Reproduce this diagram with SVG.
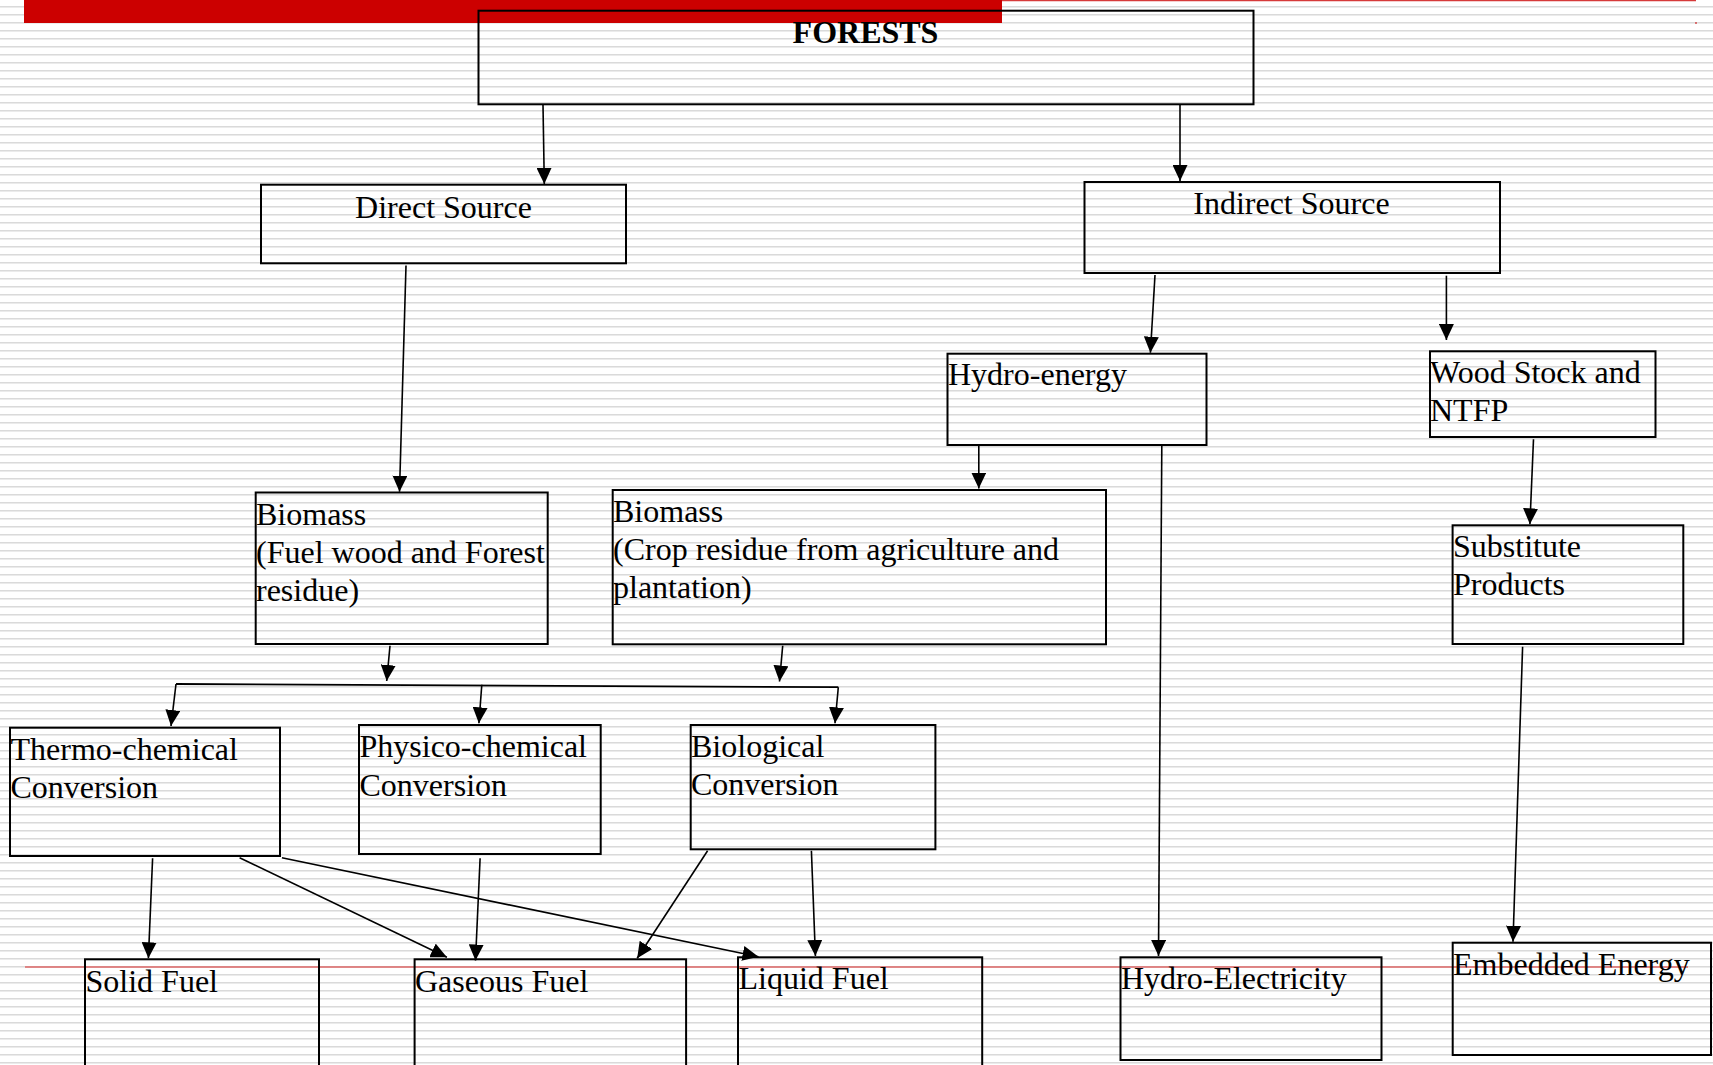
<svg xmlns="http://www.w3.org/2000/svg" width="1713" height="1065" viewBox="0 0 1713 1065">
<defs>
<pattern id="stripes" width="8" height="8" patternUnits="userSpaceOnUse">
<rect x="0" y="0" width="8" height="8" fill="#ffffff"/>
<rect x="0" y="6" width="8" height="1" fill="#dadada"/>
<rect x="0" y="7" width="8" height="1" fill="#ebebeb"/>
</pattern>
<marker id="arr" markerUnits="userSpaceOnUse" markerWidth="17" markerHeight="15" refX="16" refY="7.5" orient="auto">
<path d="M0,0 L16,7.5 L0,15 z" fill="#000"/>
</marker>
<style>
.box{fill:none;stroke:#000;stroke-width:2}
.t{font-family:"Liberation Serif","Times New Roman",serif;font-size:32px;fill:#000}
.c{fill:none;stroke:#000;stroke-width:1.8}
.ca{fill:none;stroke:#000;stroke-width:1.6;marker-end:url(#arr)}
</style>
</defs>
<rect x="0" y="0" width="1713" height="1065" fill="url(#stripes)"/>
<rect x="24" y="0" width="978" height="23" fill="#cc0000"/>
<line x1="1002" y1="0.6" x2="1696" y2="0.6" stroke="#d63a3a" stroke-width="1.2"/>
<rect x="1695.5" y="22" width="1" height="2" fill="#cc0000"/>
<line x1="25" y1="967" x2="1688" y2="967" stroke="#dd6666" stroke-width="1.3"/>

<g id="connectors">
<line class="ca" x1="543" y1="105" x2="544.3" y2="184"/>
<line class="ca" x1="1180" y1="105" x2="1180" y2="181"/>
<line class="ca" x1="406" y1="265.5" x2="399.5" y2="491.7"/>
<line class="ca" x1="1155" y1="275" x2="1150.4" y2="352.7"/>
<line class="ca" x1="1446.4" y1="275.7" x2="1446.4" y2="340"/>
<line class="ca" x1="978.8" y1="446" x2="978.8" y2="488.5"/>
<line class="ca" x1="1161.8" y1="446" x2="1158.5" y2="956"/>
<line class="ca" x1="1533.5" y1="439.3" x2="1529.9" y2="524.3"/>
<line class="ca" x1="1522.6" y1="646.7" x2="1513" y2="941.7"/>
<line class="ca" x1="390" y1="645.7" x2="386.7" y2="681"/>
<line class="ca" x1="782.7" y1="645.7" x2="779.5" y2="681.5"/>
<line class="c" x1="176" y1="684" x2="838.3" y2="687.2"/>
<line class="ca" x1="176" y1="684" x2="171" y2="726"/>
<line class="ca" x1="481.8" y1="684.8" x2="478.9" y2="723.3"/>
<line class="ca" x1="838.3" y1="687.2" x2="835" y2="723.3"/>
<line class="ca" x1="152.6" y1="858.3" x2="148.4" y2="958.3"/>
<line class="ca" x1="239.6" y1="857.7" x2="446.9" y2="957.3"/>
<line class="ca" x1="281.9" y1="857.7" x2="758.5" y2="956.7"/>
<line class="ca" x1="480.1" y1="858.3" x2="475.5" y2="960.5"/>
<line class="ca" x1="707.6" y1="850.7" x2="637.2" y2="958.3"/>
<line class="ca" x1="811.4" y1="850.7" x2="815.4" y2="956"/>
</g>

<g id="forests">
<rect class="box" x="478.5" y="10.7" width="775" height="93.6"/>
<text class="t" x="865.5" y="43" text-anchor="middle" font-weight="bold">FORESTS</text>
</g>
<g id="direct-source">
<rect class="box" x="261" y="184.7" width="365" height="78.6"/>
<text class="t" x="443.5" y="217.5" text-anchor="middle">Direct Source</text>
</g>
<g id="indirect-source">
<rect class="box" x="1084.5" y="182" width="415.5" height="91"/>
<text class="t" x="1291.4" y="213.5" text-anchor="middle">Indirect Source</text>
</g>
<g id="hydro-energy">
<rect class="box" x="947.5" y="353.7" width="259" height="91.3"/>
<text class="t" x="948" y="385">Hydro-energy</text>
</g>
<g id="wood-stock">
<rect class="box" x="1430" y="351.3" width="225.5" height="85.7"/>
<text class="t" x="1430" y="383.3">Wood Stock and</text>
<text class="t" x="1430" y="421">NTFP</text>
</g>
<g id="biomass-fuelwood">
<rect class="box" x="255.7" y="492.5" width="292" height="151.5"/>
<text class="t" x="256" y="525">Biomass</text>
<text class="t" x="256" y="563">(Fuel wood and Forest</text>
<text class="t" x="256" y="600.8">residue)</text>
</g>
<g id="biomass-crop">
<rect class="box" x="612.7" y="490" width="493.3" height="154.3"/>
<text class="t" x="613" y="521.7">Biomass</text>
<text class="t" x="613" y="560">(Crop residue from agriculture and</text>
<text class="t" x="613" y="598.3">plantation)</text>
</g>
<g id="substitute-products">
<rect class="box" x="1452.6" y="525.3" width="230.7" height="118.7"/>
<text class="t" x="1453" y="556.7">Substitute</text>
<text class="t" x="1453" y="594.5">Products</text>
</g>
<g id="thermo-chemical">
<rect class="box" x="10" y="727.7" width="270" height="128.3"/>
<text class="t" x="10.5" y="760">Thermo-chemical</text>
<text class="t" x="10.5" y="798.3">Conversion</text>
</g>
<g id="physico-chemical">
<rect class="box" x="359" y="725" width="241.7" height="129"/>
<text class="t" x="359.5" y="757.3">Physico-chemical</text>
<text class="t" x="359.5" y="796">Conversion</text>
</g>
<g id="biological">
<rect class="box" x="690.7" y="725" width="244.7" height="124.3"/>
<text class="t" x="691" y="756.7">Biological</text>
<text class="t" x="691" y="795">Conversion</text>
</g>
<g id="solid-fuel">
<rect class="box" x="85" y="959.3" width="234" height="130"/>
<text class="t" x="85.5" y="991.7">Solid Fuel</text>
</g>
<g id="gaseous-fuel">
<rect class="box" x="414.6" y="959.3" width="271.5" height="130"/>
<text class="t" x="415" y="991.7">Gaseous Fuel</text>
</g>
<g id="liquid-fuel">
<rect class="box" x="738" y="957.3" width="244.2" height="130"/>
<text class="t" x="738.5" y="989.3">Liquid Fuel</text>
</g>
<g id="hydro-electricity">
<rect class="box" x="1120.5" y="957.3" width="261" height="102.7"/>
<text class="t" x="1121" y="989.3">Hydro-Electricity</text>
</g>
<g id="embedded-energy">
<rect class="box" x="1452.7" y="942.7" width="258.3" height="112.3"/>
<text class="t" x="1453" y="975">Embedded Energy</text>
</g>
</svg>
